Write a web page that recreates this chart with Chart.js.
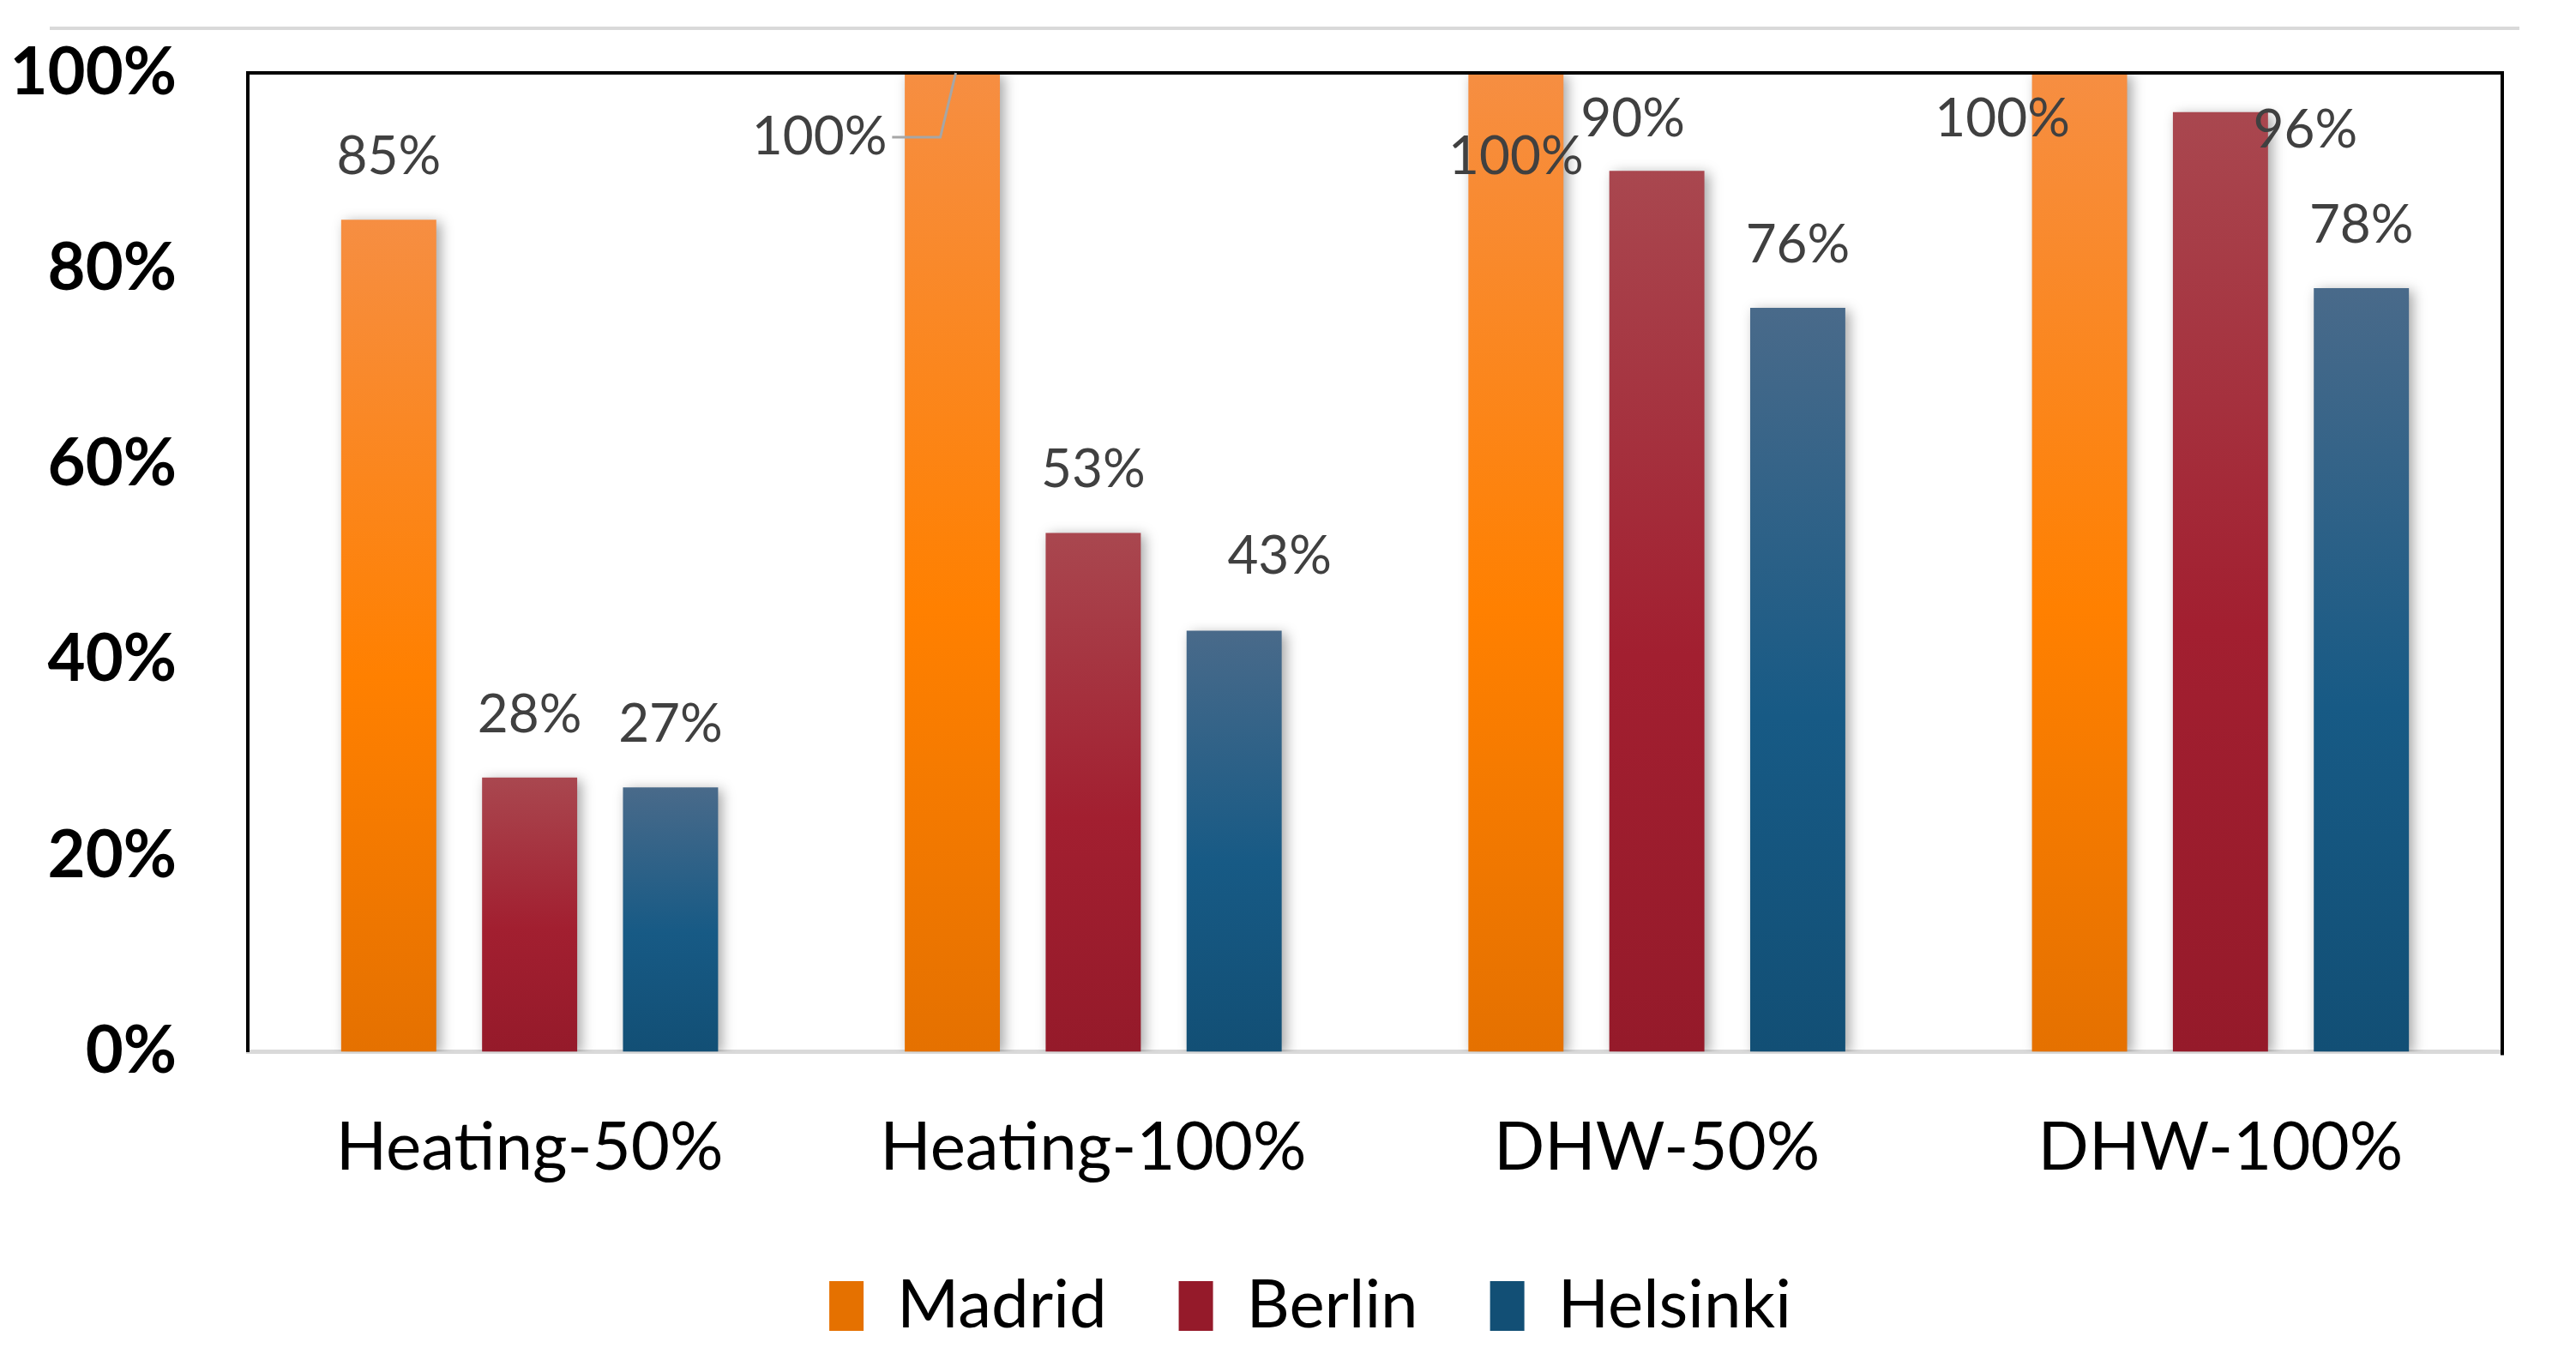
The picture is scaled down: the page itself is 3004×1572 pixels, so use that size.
<!DOCTYPE html>
<html>
<head>
<meta charset="utf-8">
<script src="https://cdn.jsdelivr.net/npm/chart.js@4.4.1/dist/chart.umd.min.js"></script>
<style>
  html, body { margin: 0; padding: 0; background: #fff; }
  #wrap { position: relative; width: 3004px; height: 1572px; }
  #topRule { position: absolute; left: 58px; top: 31px; width: 2880px; height: 4px; background: #D9D9D9; }
  canvas { position: absolute; left: 0; top: 0; }
</style>
</head>
<body>
<div id="wrap">
  <div id="topRule"></div>
  <canvas id="chart" width="3004" height="1572"></canvas>
</div>
<script>
const categories = ["Heating-50%", "Heating-100%", "DHW-50%", "DHW-100%"];
const madrid = [85, 100, 100, 100];
const berlin = [28, 53, 90, 96];
const helsinki = [27, 43, 76, 78];
const yTicks = [0, 20, 40, 60, 80, 100];

// where a value label sits relative to the top centre of its bar
const defaultNudge = { dx: 0, dy: -73 };
const labelNudge = {
  "0,1": { dx: -155, dy: 75, leader: true },
  "0,2": { dx: 0, dy: 98 },
  "1,2": { dx: -28, dy: -60 },
  "0,3": { dx: -90, dy: 54 },
  "1,3": { dx: 99, dy: 21 },
  "2,1": { dx: 53, dy: -87 }
};

// vertical gradient over each bar, Excel style
function barFill(stops, flat) {
  return (c) => {
    const chart = c.chart;
    if (c.type !== "data" || !chart.chartArea) return flat;
    const y = chart.scales.y;
    const top = y.getPixelForValue(c.raw);
    const base = y.getPixelForValue(0);
    const g = chart.ctx.createLinearGradient(0, top, 0, base);
    stops.forEach(s => g.addColorStop(s[0], s[1]));
    return g;
  };
}

const decor = {
  id: "decor",
  afterLayout(chart) {
    // legend sits a little right of centre in the original
    chart.legend.left += 64;
    chart.legend.right += 64;
  },
  beforeDatasetsDraw(chart) {
    const ctx = chart.ctx;
    ctx.save();
    ctx.shadowColor = "rgba(0,0,0,0.35)";
    ctx.shadowBlur = 14;
    ctx.shadowOffsetX = 5;
    ctx.shadowOffsetY = 3;
  },
  afterDatasetsDraw(chart) {
    const ctx = chart.ctx;
    ctx.restore();
    const a = chart.chartArea;

    // top and right frame lines
    ctx.save();
    ctx.strokeStyle = "#000";
    ctx.lineWidth = 4;
    ctx.beginPath();
    ctx.moveTo(a.left, a.top);
    ctx.lineTo(a.right, a.top);
    ctx.lineTo(a.right, a.bottom + 4);
    ctx.stroke();
    ctx.restore();

    // value labels
    ctx.save();
    ctx.font = "400 62px Lato";
    ctx.fillStyle = "#404040";
    ctx.textAlign = "center";
    ctx.textBaseline = "middle";
    chart.data.datasets.forEach((ds, d) => {
      chart.getDatasetMeta(d).data.forEach((bar, i) => {
        const n = labelNudge[d + "," + i] || defaultNudge;
        const x = bar.x + n.dx, y = bar.y + n.dy;
        const text = ds.data[i] + "%";
        ctx.fillText(text, x, y);
        if (n.leader) {
          const w = ctx.measureText(text).width;
          ctx.strokeStyle = "#A6A6A6";
          ctx.lineWidth = 3;
          ctx.beginPath();
          ctx.moveTo(x + w / 2 + 6, y);
          ctx.lineTo(bar.x - 14, y);
          ctx.lineTo(bar.x + 4, bar.y);
          ctx.stroke();
        }
      });
    });
    ctx.restore();
  }
};

const ctx = document.getElementById("chart").getContext("2d");
new Chart(ctx, {
  type: "bar",
  data: {
    labels: categories,
    datasets: [
      {
        label: "Madrid",
        data: madrid,
        backgroundColor: barFill([[0, "#F68E42"], [0.55, "#FF8000"], [1, "#E57100"]], "#F8861F")
      },
      {
        label: "Berlin",
        data: berlin,
        backgroundColor: barFill([[0, "#A9474F"], [0.55, "#A21F30"], [1, "#951A2A"]], "#A32A38")
      },
      {
        label: "Helsinki",
        data: helsinki,
        backgroundColor: barFill([[0, "#496A8A"], [0.55, "#175A85"], [1, "#124F75"]], "#205A82")
      }
    ]
  },
  options: {
    responsive: false,
    devicePixelRatio: 1,
    animation: false,
    events: [],
    categoryPercentage: 0.75,
    barPercentage: 0.675,
    layout: { padding: { top: 85, right: 86, left: 10, bottom: 0 } },
    scales: {
      x: {
        afterFit: (s) => { s.height -= 52; },
        grid: { display: false, drawTicks: false },
        border: { display: true, color: "#D9D9D9", width: 5 },
        ticks: { color: "#000", font: { family: "Lato", size: 78 }, padding: 66 }
      },
      y: {
        min: 0,
        max: 100,
        afterBuildTicks: (s) => { s.ticks = yTicks.map(v => ({ value: v })); },
        afterFit: (s) => { s.width = 279; s.paddingTop = 40; s.paddingBottom = 40; },
        grid: { display: false, drawTicks: false },
        border: { display: true, color: "#000", width: 4 },
        ticks: {
          color: "#000",
          font: { family: "Lato", size: 76, weight: "bold" },
          padding: 83,
          callback: (v) => v + "%"
        }
      }
    },
    plugins: {
      tooltip: { enabled: false },
      legend: {
        position: "bottom",
        labels: {
          color: "#000",
          font: { family: "Lato", size: 78 },
          boxWidth: 40,
          boxHeight: 58,
          padding: 84
        }
      }
    }
  },
  plugins: [decor]
});
</script>
</body>
</html>
